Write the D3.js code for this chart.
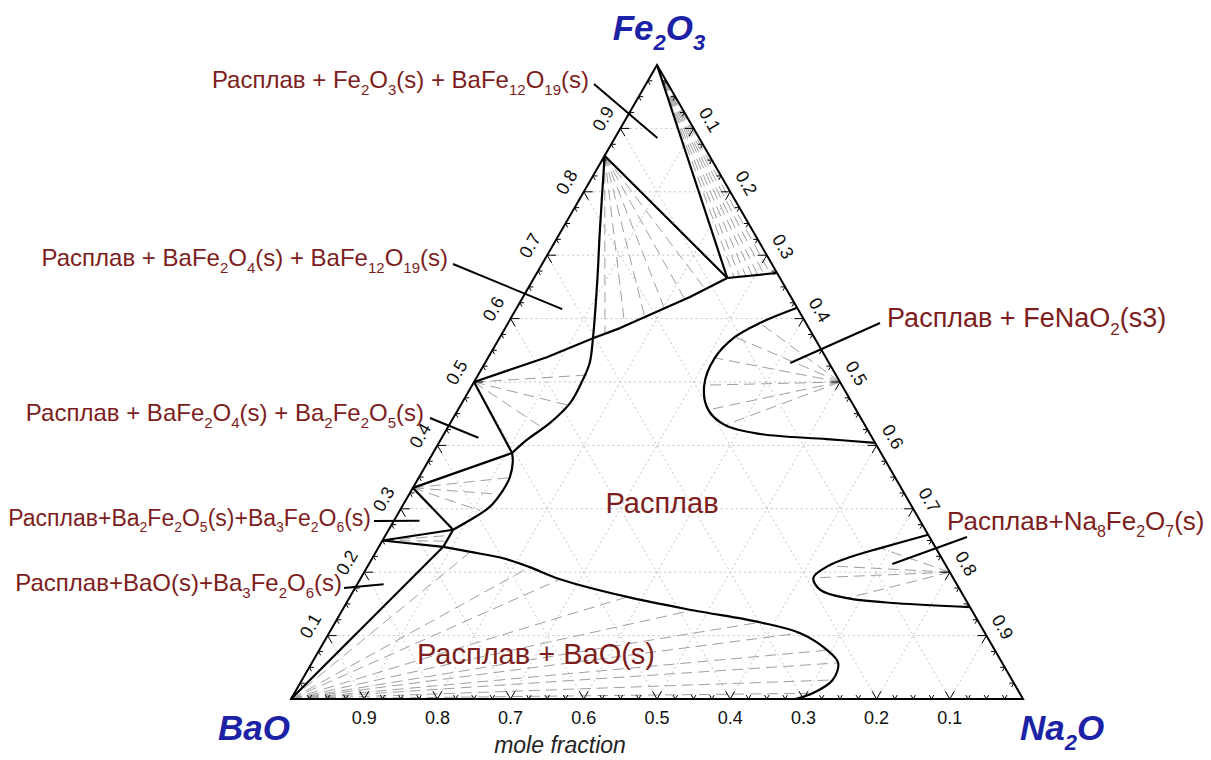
<html>
<head>
<meta charset="utf-8">
<title>BaO - Na2O - Fe2O3</title>
<script src="https://d3js.org/d3.v7.min.js"></script>
<style>
body { margin: 0; background: #fff; font-family: Arial, 'Liberation Sans', sans-serif; }
svg { display: block; }
.grid { stroke: #c4c4c4; stroke-width: 1; stroke-dasharray: 2,3; fill: none; }
.tie { stroke: #a0a0a0; stroke-width: 1; stroke-dasharray: 11,6; fill: none; }
.phase { stroke: #000; stroke-width: 2.2; fill: none; stroke-linejoin: round; }
.edge { stroke: #000; stroke-width: 2; fill: none; }
.tick { stroke: #000; stroke-width: 1; }
.ticklabel { font-size: 18px; fill: #111; text-anchor: middle; dominant-baseline: middle; }
.region { fill: #7d1d1d; }
.leader { stroke: #000; stroke-width: 2; }
.corner { fill: #1c22a6; font-weight: bold; font-style: italic; font-size: 35px; }
.axistitle { font-style: italic; font-size: 23px; fill: #222; text-anchor: middle; }
</style>
</head>
<body>
<div id="plot"></div>
<script>

// every composition is [Na2O, Fe2O3] in mole fraction, BaO is what is left
var tickValues = [0.1, 0.2, 0.3, 0.4, 0.5, 0.6, 0.7, 0.8, 0.9];
var tickLabels = ["0.1", "0.2", "0.3", "0.4", "0.5", "0.6", "0.7", "0.8", "0.9"];
var bottomLabels = ["0.9", "0.8", "0.7", "0.6", "0.5", "0.4", "0.3", "0.2", "0.1"];
var cornerNames = ["BaO", "Na_2O", "Fe_2O_3"];

// solid phases
var bao = [0, 0], na2o = [1, 0], fe2o3 = [0, 1];
var bafe12o19 = [0, 0.857];
var bafe2o4 = [0, 0.5];
var ba2fe2o5 = [0, 0.333];
var ba3fe2o6 = [0, 0.25];
var fenao2 = [0.5, 0.5];
var na8fe2o7 = [0.8, 0.2];

// liquid corners of the three-phase triangles
var liqL1 = [0.264, 0.664];
var liqX = [0.128, 0.569];
var liqJ1 = [0.108, 0.388];
var liqJ2 = [0.088, 0.267];
var liqJ3 = [0.088, 0.240];
var fe2o3Edge = [0.328, 0.672];

var straightLines = [
  [fe2o3, liqL1], [bafe12o19, liqL1], [liqL1, fe2o3Edge],
  [bafe2o4, liqJ1], [ba2fe2o5, liqJ1], [ba2fe2o5, liqJ2],
  [ba3fe2o6, liqJ2], [liqJ2, liqJ3], [liqJ3, bao], [ba3fe2o6, liqJ3]
];

var lineBaFe2O4 = [bafe2o4, [0.080, 0.539], liqX, [0.157, 0.585], [0.228, 0.634], liqL1];

var curveUpper = [bafe12o19, [0.052, 0.740], [0.088, 0.661], liqX, [0.143, 0.530],
  [0.147, 0.503], [0.148, 0.467], [0.136, 0.435], [0.118, 0.409], liqJ1];
var curveLower = [liqJ1, [0.116, 0.374], [0.124, 0.350], [0.125, 0.330], [0.120, 0.303],
  [0.108, 0.287], liqJ2];
var liquidusBaO = [liqJ3, [0.129, 0.232], [0.179, 0.222], [0.222, 0.208], [0.273, 0.189],
  [0.379, 0.161], [0.479, 0.140], [0.580, 0.121], [0.643, 0.104], [0.694, 0.077],
  [0.719, 0.057], [0.725, 0.030], [0.708, 0.009], [0.689, 0]];
var liquidusFeNaO2 = [[0.383, 0.617], [0.344, 0.593], [0.321, 0.571], [0.310, 0.538],
  [0.317, 0.495], [0.342, 0.456], [0.377, 0.432], [0.432, 0.418], [0.527, 0.410], [0.596, 0.404]];
var liquidusNa8 = [[0.741, 0.259], [0.686, 0.238], [0.652, 0.224], [0.629, 0.210],
  [0.618, 0.191], [0.637, 0.172], [0.680, 0.159], [0.752, 0.151], [0.855, 0.145]];

// tie lines: solid end, liquid end
var tiesFe2O3 = [[0.273, 0.665], [0.280, 0.666], [0.288, 0.667], [0.296, 0.668],
  [0.303, 0.669], [0.311, 0.670], [0.319, 0.671]];
var tiesBaFe12 = [[0.141, 0.576], [0.162, 0.588], [0.183, 0.601], [0.203, 0.615],
  [0.224, 0.629], [0.242, 0.647]];
var tiesBaFe2O4 = [[0.149, 0.511], [0.145, 0.464], [0.131, 0.427]];
var tiesBa2Fe2O5 = [[0.122, 0.349], [0.122, 0.323], [0.110, 0.297]];
var tiesBa3Fe2O6 = [[0.088, 0.258], [0.088, 0.249]];
var tiesBaO = [[0.129, 0.232], [0.222, 0.208], [0.273, 0.189], [0.379, 0.161],
  [0.479, 0.140], [0.580, 0.121], [0.643, 0.104], [0.694, 0.077], [0.719, 0.057],
  [0.725, 0.030], [0.708, 0.009]];
var tiesFeNaO2 = [[0.344, 0.593], [0.321, 0.571], [0.310, 0.538], [0.317, 0.495],
  [0.342, 0.456], [0.377, 0.432]];
var tiesNa8 = [[0.686, 0.238], [0.629, 0.210], [0.618, 0.191], [0.680, 0.159]];

// phase field names and the composition their leader points at
var regionNames = [
  "Расплав + Fe_2O_3(s) + BaFe_12O_19(s)",
  "Расплав + BaFe_2O_4(s) + BaFe_12O_19(s)",
  "Расплав + FeNaO_2(s3)",
  "Расплав + BaFe_2O_4(s) + Ba_2Fe_2O_5(s)",
  "Расплав+Ba_2Fe_2O_5(s)+Ba_3Fe_2O_6(s)",
  "Расплав+Na_8Fe_2O_7(s)",
  "Расплав+BaO(s)+Ba_3Fe_2O_6(s)",
  "Расплав",
  "Расплав + BaO(s)"
];
var regionTargets = [[0.058, 0.885], [0.063, 0.615], [0.417, 0.530], [0.050, 0.412],
  [0.035, 0.281], [0.715, 0.213], [0.036, 0.181], null, null];

// where the names sit on the page
var regionLayout = [
  { x: 589, y: 88, anchor: "end", size: 24, from: [594, 84] },
  { x: 448, y: 266, anchor: "end", size: 24, from: [453, 264] },
  { x: 887, y: 327, anchor: "start", size: 27, from: [880, 323] },
  { x: 424, y: 421, anchor: "end", size: 24, from: [430, 418] },
  { x: 371, y: 526, anchor: "end", size: 23, from: [374, 521] },
  { x: 947, y: 530, anchor: "start", size: 26, from: [967, 537] },
  { x: 342, y: 591, anchor: "end", size: 24, from: [344, 588] },
  { x: 662, y: 513, anchor: "middle", size: 29, from: null },
  { x: 536, y: 664, anchor: "middle", size: 29, from: null }
];

var width = 1211, height = 760;

var svg = d3.select("#plot").append("svg")
  .attr("width", width).attr("height", height);

svg.append("rect").attr("width", width).attr("height", height).style("fill", "#fff");

// BaO corner at left, Na2O at right, Fe2O3 on top
var xScale = d3.scaleLinear().domain([0, 1]).range([291, 1023]);
var yScale = d3.scaleLinear().domain([0, 1]).range([699, 65]);

function pt(c) {
  return [xScale(c[0] + c[1] / 2), yScale(c[1])];
}

var straight = d3.line().x(d => pt(d)[0]).y(d => pt(d)[1]);
var smooth = d3.line().x(d => pt(d)[0]).y(d => pt(d)[1]).curve(d3.curveCatmullRom.alpha(0.5));

// grid
var gridSegs = [];
tickValues.forEach(function (t) {
  gridSegs.push([[0, t], [1 - t, t]]);
  gridSegs.push([[t, 0], [t, 1 - t]]);
  gridSegs.push([[1 - t, 0], [0, 1 - t]]);
});
svg.append("g").selectAll("path").data(gridSegs).enter()
  .append("path").attr("class", "grid").attr("d", straight);

// tie lines
var ties = [];
tiesFe2O3.forEach(d => ties.push([fe2o3, d]));
tiesBaFe12.forEach(d => ties.push([bafe12o19, d]));
tiesBaFe2O4.forEach(d => ties.push([bafe2o4, d]));
tiesBa2Fe2O5.forEach(d => ties.push([ba2fe2o5, d]));
tiesBa3Fe2O6.forEach(d => ties.push([ba3fe2o6, d]));
tiesBaO.forEach(d => ties.push([bao, d]));
tiesFeNaO2.forEach(d => ties.push([fenao2, d]));
tiesNa8.forEach(d => ties.push([na8fe2o7, d]));
svg.append("g").selectAll("path").data(ties).enter()
  .append("path").attr("class", "tie").attr("d", straight);

// ticks: a little V along both grid directions, every 0.025
var minor = d3.range(1, 40).map(i => i / 40);
var edges = [
  { at: t => [t, 0], arms: [[-0.5, -0.866], [0.5, -0.866]] },
  { at: t => [0, t], arms: [[1, 0], [0.5, 0.866]] },
  { at: t => [t, 1 - t], arms: [[-1, 0], [-0.5, 0.866]] }
];
var tickSegs = [];
edges.forEach(function (e) {
  minor.forEach(function (t, i) {
    var p = pt(e.at(t));
    var len = (i + 1) % 4 == 0 ? 9 : 4.5;
    e.arms.forEach(function (a) {
      tickSegs.push([p[0], p[1], p[0] + a[0] * len, p[1] + a[1] * len]);
    });
  });
});
svg.append("g").selectAll("line").data(tickSegs).enter()
  .append("line").attr("class", "tick")
  .attr("x1", d => d[0]).attr("y1", d => d[1])
  .attr("x2", d => d[2]).attr("y2", d => d[3]);

// triangle
svg.append("path").attr("class", "edge").attr("d", straight([bao, na2o, fe2o3]) + "Z");

// phase boundaries
svg.append("g").selectAll("path").data(straightLines).enter()
  .append("path").attr("class", "phase").attr("d", straight);
svg.append("path").attr("class", "phase").attr("d", straight(lineBaFe2O4));
[curveUpper, curveLower, liquidusBaO, liquidusFeNaO2, liquidusNa8].forEach(function (c) {
  svg.append("path").attr("class", "phase").attr("d", smooth(c));
});

// tick labels
svg.append("g").selectAll("text").data(tickValues).enter()
  .append("text").attr("class", "ticklabel")
  .attr("x", d => pt([d, 0])[0]).attr("y", d => pt([d, 0])[1] + 20)
  .text((d, i) => bottomLabels[i]);

svg.append("g").selectAll("text").data(tickValues).enter()
  .append("text").attr("class", "ticklabel")
  .attr("transform", function (d) {
    var p = pt([0, d]);
    return "translate(" + (p[0] - 16) + "," + (p[1] - 9) + ") rotate(-60)";
  })
  .text((d, i) => tickLabels[i]);

svg.append("g").selectAll("text").data(tickValues).enter()
  .append("text").attr("class", "ticklabel")
  .attr("transform", function (d) {
    var p = pt([d, 1 - d]);
    return "translate(" + (p[0] + 15) + "," + (p[1] - 8) + ") rotate(60)";
  })
  .text((d, i) => tickLabels[i]);

// text with _digits written as subscripts
function richText(sel, str, size) {
  var parts = str.split(/_(\d+)/);
  var shift = 0;
  parts.forEach(function (s, i) {
    if (s === "") return;
    var sub = i % 2 == 1;
    var want = sub ? Math.round(size * 0.28) : 0;
    sel.append("tspan")
      .attr("dy", want - shift)
      .style("font-size", (sub ? Math.round(size * 0.62) : size) + "px")
      .text(s);
    shift = want;
  });
}

// corner names
var cornerPos = [[290, 740, "end"], [1020, 740, "start"], [659, 40, "middle"]];
cornerNames.forEach(function (n, i) {
  var t = svg.append("text").attr("class", "corner")
    .attr("x", cornerPos[i][0]).attr("y", cornerPos[i][1])
    .attr("text-anchor", cornerPos[i][2]);
  richText(t, n, 35);
});

svg.append("text").attr("class", "axistitle").attr("x", 560).attr("y", 753).text("mole fraction");

// phase field names with leaders
regionNames.forEach(function (name, i) {
  var lay = regionLayout[i];
  if (lay.from) {
    var q = pt(regionTargets[i]);
    svg.append("line").attr("class", "leader")
      .attr("x1", lay.from[0]).attr("y1", lay.from[1])
      .attr("x2", q[0]).attr("y2", q[1]);
  }
  var t = svg.append("text").attr("class", "region")
    .attr("x", lay.x).attr("y", lay.y)
    .attr("text-anchor", lay.anchor);
  richText(t, name, lay.size);
});

</script>
</body>
</html>
